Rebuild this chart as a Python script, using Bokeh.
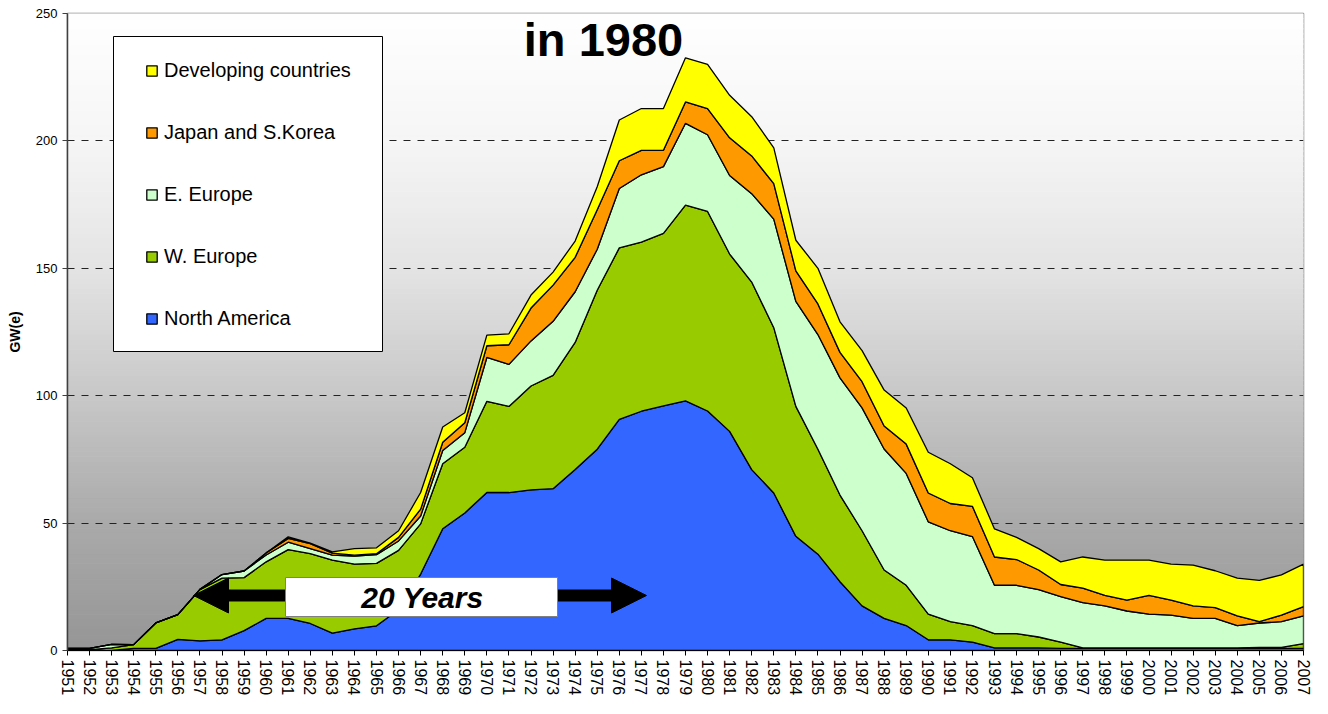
import numpy as np
from bokeh.plotting import figure
from bokeh.models import (FixedTicker, Legend, LegendItem, Label, BoxAnnotation,
                          Arrow, NormalHead, Range1d, BasicTickFormatter)
from bokeh.embed import file_html
from bokeh.resources import INLINE

years = list(range(1951, 2008))

north_america = [0.5, 0.3, 0, 0.8, 0.8, 4.4, 3.8, 4.2, 7.8, 12.6,
                 12.6, 10.6, 6.8, 8.5, 9.7, 16, 30, 47.8, 54, 62,
                 62, 63, 63.5, 71, 79, 90.7, 93.9, 96, 98, 94,
                 86, 71, 61.8, 44.8, 37.8, 27, 17.5, 12.6, 9.8, 4.2,
                 4.2, 3.3, 1, 1, 1, 0.8, 0.8, 0.8, 0.8, 0.8,
                 0.8, 0.8, 0.8, 0.8, 0.8, 0.8, 0.8]
w_europe = [0, 0, 1, 1.5, 10, 9.7, 20.1, 24.2, 20.8, 22.2,
            27, 27.4, 28.7, 25.4, 24.5, 23.3, 19.7, 25.5, 25.8, 35.8,
            33.8, 40.8, 44.5, 49.9, 62.4, 67.3, 66.4, 67.7, 76.8, 78.3,
            69.6, 73.6, 64.9, 51, 41.2, 34, 29.5, 19, 15.8, 10.1,
            7.1, 6.5, 5.6, 5.6, 4.3, 2.5, 0.2, 0.2, 0.2, 0.2,
            0.2, 0.2, 0.2, 0.2, 0.4, 0.4, 1.9]
e_europe = [0.3, 0.5, 1.4, 0, 0, 0, 0.1, 1.4, 2.6, 2.7,
            2.9, 2, 1.9, 3.1, 3.4, 3.7, 3.1, 5.2, 5.7, 17.2,
            16.5, 17.7, 21.2, 19.9, 16.1, 23.3, 26.4, 26.2, 32.1, 30.1,
            30.8, 34.7, 42.6, 41.2, 45, 46, 48.2, 47.5, 43.9, 36.2,
            35.7, 34.9, 19, 19, 18.6, 17.8, 17.8, 16.5, 14.5, 13.3,
            12.9, 11.6, 11.6, 8.8, 9.6, 10.1, 10.9]
japan_korea = [0, 0, 0, 0, 0, 0, 0, 0, 0, 0.8,
               1.5, 1.9, 0.8, 0.4, 0.4, 1.4, 2.7, 3.2, 3.9, 4.6,
               7.7, 12.9, 14.2, 13.5, 15.5, 10.9, 9.6, 6.4, 8.4, 10.3,
               14.8, 14.8, 13.9, 12, 12, 10, 10.3, 9, 11.5, 11.3,
               10.7, 11.9, 11.1, 10.1, 7.7, 4.8, 5.7, 4.1, 4.3, 7.3,
               5.9, 4.9, 4.2, 3.8, 0.5, 2.6, 3.6]
developing = [0, 0, 0, 0, 0, 0, 0, 0, 0, 0,
              0.6, 0.2, 0.5, 2.6, 2.3, 2.6, 6.5, 6, 3.9, 4.2,
              4.3, 5.1, 5.1, 6.4, 9, 16, 16.4, 16.4, 17.3, 17.3,
              16.7, 15.4, 14.1, 12, 14, 12, 12.2, 14.1, 14.2, 16,
              15.6, 11.2, 11, 8.7, 8.4, 8.9, 12.2, 13.9, 15.7, 13.9,
              14.1, 16, 14.5, 14.8, 16.2, 15.8, 16.7]

series_names = ["North America", "W. Europe", "E. Europe", "Japan and S.Korea", "Developing countries"]
series_colors = ["#3366FF", "#99CC00", "#CCFFCC", "#FF9900", "#FFFF00"]
y_ticks = [0, 50, 100, 150, 200, 250]

FONT = "Liberation Sans"

W, H = 1312, 698
BL, BR, BT, BB = 67, 9, 13, 48
FL, FR, FT, FB = BL, W - BR, BT, H - BB
X0, X1, Y0, Y1 = 1951, 2007, 0, 250


def dx(px):
    return X0 + (px - FL) * (X1 - X0) / (FR - FL)


def dy(py):
    return Y0 + (FB - py) * (Y1 - Y0) / (FB - FT)


p = figure(width=W, height=H, output_backend="svg", toolbar_location=None,
           x_range=Range1d(X0, X1), y_range=Range1d(Y0, Y1),
           min_border_left=BL, min_border_right=BR, min_border_top=BT, min_border_bottom=BB)

# background gradient (white top -> grey bottom)
stops_v = [0, 50, 100, 150, 200, 250]
stops_g = [150, 170, 200, 228, 246, 255]
nstrip = 125
bottoms = np.linspace(0, 250, nstrip + 1)[:-1]
tops = bottoms + 250 / nstrip
grays = np.interp(bottoms + 1, stops_v, stops_g)
bg_colors = ["#%02x%02x%02x" % (int(g), int(g), int(g)) for g in grays]
p.quad(left=X0, right=X1, bottom=bottoms, top=tops, fill_color=bg_colors,
       line_color=bg_colors, line_width=1, level="image")

# stacked areas
base = np.zeros(len(years))
rends = []
for name, vals, col in zip(series_names,
                           [north_america, w_europe, e_europe, japan_korea, developing],
                           series_colors):
    top = base + np.array(vals, dtype=float)
    xs = years + years[::-1]
    ys = list(top) + list(base[::-1])
    r = p.patch(xs, ys, fill_color=col, line_color="black", line_width=1.3)
    rends.append((name, r))
    base = top

# axes
p.xgrid.visible = False
p.ygrid.ticker = FixedTicker(ticks=[50, 100, 150, 200])
p.ygrid.grid_line_color = "#222222"
p.ygrid.grid_line_dash = "7 7"
p.ygrid.grid_line_width = 1

p.xaxis.ticker = FixedTicker(ticks=years)
p.xaxis.formatter = BasicTickFormatter(use_scientific=False)
p.xaxis.major_label_orientation = "vertical"
p.xaxis.major_label_text_font = FONT
p.xaxis.major_label_text_font_size = "16px"
p.xaxis.major_label_text_color = "black"
p.xaxis.major_label_standoff = 4
p.xaxis.minor_tick_line_color = None
p.xaxis.major_tick_out = 5
p.xaxis.major_tick_in = 0
p.xaxis.axis_line_color = "black"
p.xaxis.major_tick_line_color = "black"

p.yaxis.ticker = FixedTicker(ticks=y_ticks)
p.yaxis.major_label_text_font = FONT
p.yaxis.major_label_text_font_size = "13px"
p.yaxis.major_label_text_color = "black"
p.yaxis.minor_tick_line_color = None
p.yaxis.major_tick_out = 5
p.yaxis.major_tick_in = 0
p.yaxis.axis_line_color = "#404040"
p.yaxis.axis_line_width = 1.5
p.yaxis.major_tick_line_color = "#404040"
p.yaxis.axis_label = "GW(e)"
p.yaxis.axis_label_text_font = FONT
p.yaxis.axis_label_text_font_style = "bold"
p.yaxis.axis_label_text_font_size = "14px"
p.yaxis.axis_label_text_color = "black"
p.yaxis.axis_label_standoff = 10

p.outline_line_color = "#808080"
p.outline_line_width = 1.5
p.background_fill_color = "white"
p.border_fill_color = "white"

# legend box (drawn separately so items sit where the reference has them)
p.add_layout(BoxAnnotation(left=dx(113), right=dx(382), top=dy(36), bottom=dy(351),
                           fill_color="white", fill_alpha=1, line_color="black",
                           line_width=1, line_alpha=1))
legend = Legend(items=[LegendItem(label=n, renderers=[r]) for n, r in reversed(rends)],
                location=(78, FB - 330), label_text_font=FONT,
                label_text_font_size="20px", label_text_color="black",
                glyph_width=13, glyph_height=13, spacing=39, padding=10,
                label_standoff=6, border_line_color=None,
                background_fill_alpha=0)
p.add_layout(legend)

# annotations
p.add_layout(Label(x=dx(603), y=dy(39), text="in 1980", text_font=FONT,
                   text_font_style="bold", text_font_size="47px", text_color="black",
                   text_align="center", text_baseline="middle"))

p.add_layout(Arrow(end=NormalHead(size=35, fill_color="black", line_color="black"),
                   x_start=dx(290), y_start=dy(595), x_end=dx(193), y_end=dy(595),
                   line_width=12, line_color="black"))
p.add_layout(Arrow(end=NormalHead(size=35, fill_color="black", line_color="black"),
                   x_start=dx(552), y_start=dy(595), x_end=dx(646), y_end=dy(595),
                   line_width=12, line_color="black"))
p.add_layout(BoxAnnotation(left=dx(285), right=dx(557), bottom=dy(616), top=dy(577),
                           fill_color="white", fill_alpha=1, line_color="#808080",
                           line_width=1, line_alpha=1))
p.add_layout(Label(x=dx(422), y=dy(597), text="20 Years", text_font=FONT,
                   text_font_style="bold italic", text_font_size="30px", text_color="black",
                   text_align="center", text_baseline="middle"))

open("out.html", "w").write(file_html(p, INLINE))
